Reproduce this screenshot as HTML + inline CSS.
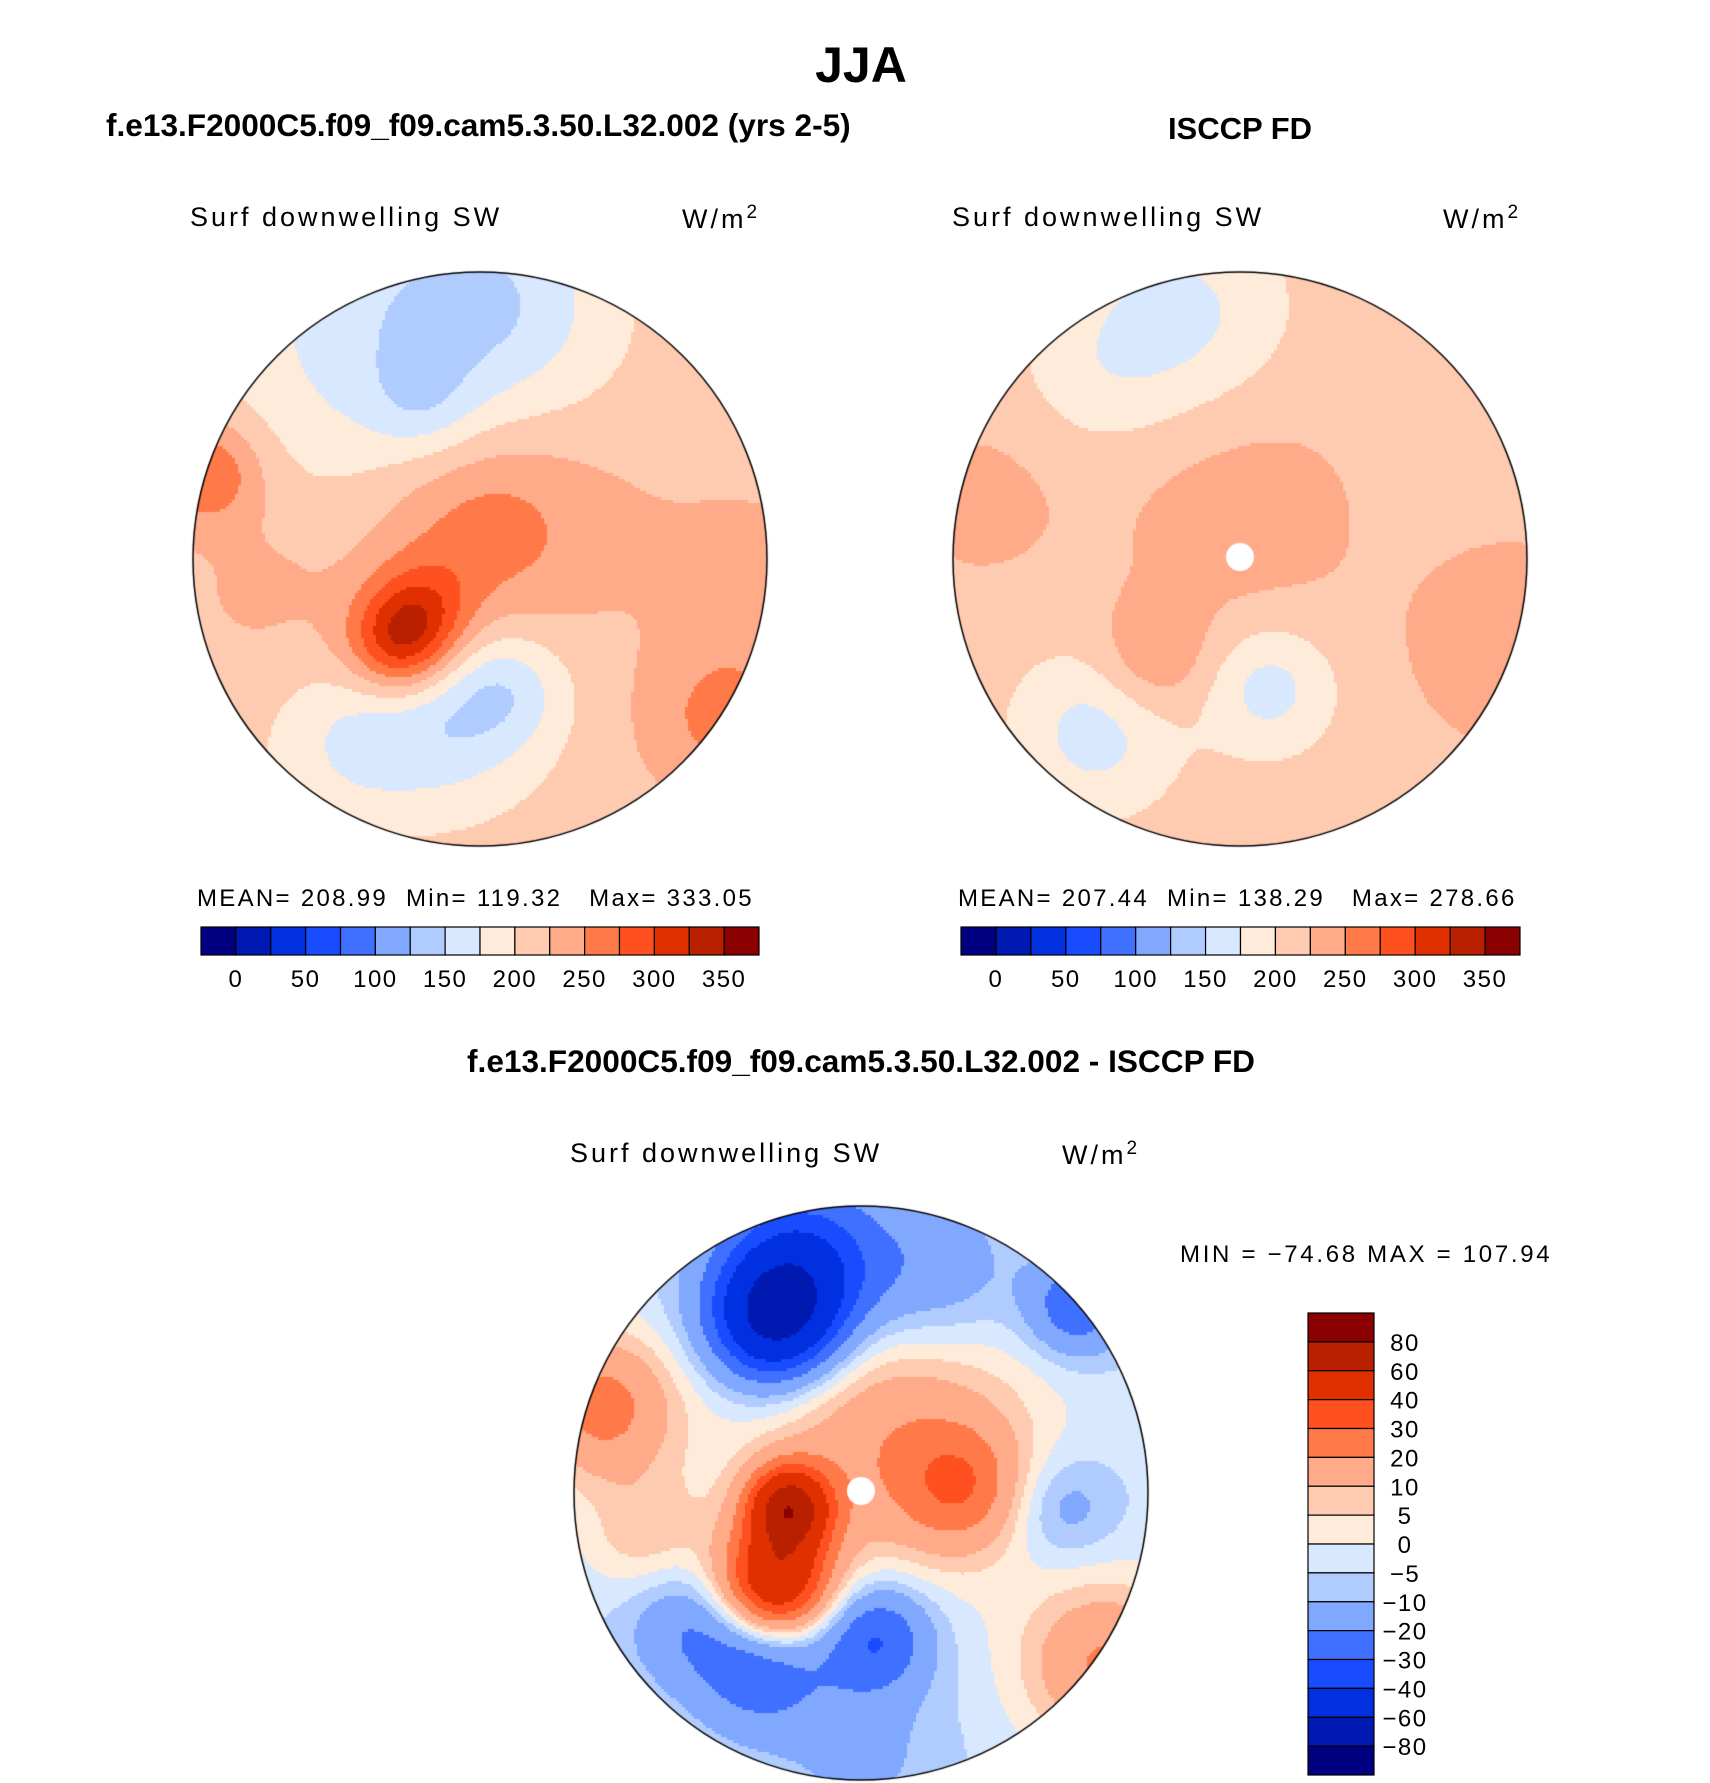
<!DOCTYPE html>
<html><head><meta charset="utf-8">
<style>
body{margin:0;background:#fff;width:1710px;height:1776px;position:relative;overflow:hidden;font-family:"Liberation Sans",sans-serif;}
.t{position:absolute;white-space:nowrap;color:#000;}
.b{font-weight:bold;}
.lab{font-size:27px;letter-spacing:3px;}
.st{font-size:24px;letter-spacing:2.3px;}
canvas{position:absolute;}
</style></head><body>
<div class="t b" style="left:0;width:1722px;text-align:center;top:36px;font-size:50px;">JJA</div>
<div class="t b" style="left:106px;top:107px;font-size:31.6px;">f.e13.F2000C5.f09_f09.cam5.3.50.L32.002 (yrs 2-5)</div>
<div class="t b" style="left:1140px;width:200px;text-align:center;top:111px;font-size:31px;">ISCCP FD</div>
<div class="t b" style="left:0;width:1722px;text-align:center;top:1043px;font-size:31.6px;">f.e13.F2000C5.f09_f09.cam5.3.50.L32.002 - ISCCP FD</div>

<div class="t lab" style="left:190px;top:202px;">Surf downwelling SW</div>
<div class="t lab" style="left:682px;top:202px;">W/m<sup style="font-size:19px">2</sup></div>
<div class="t lab" style="left:952px;top:202px;">Surf downwelling SW</div>
<div class="t lab" style="left:1443px;top:202px;">W/m<sup style="font-size:19px">2</sup></div>
<div class="t lab" style="left:570px;top:1138px;">Surf downwelling SW</div>
<div class="t lab" style="left:1062px;top:1138px;">W/m<sup style="font-size:19px">2</sup></div>

<div class="t st" style="left:197px;top:885px;">MEAN= 208.99 &nbsp;Min= 119.32 &nbsp;&nbsp;Max= 333.05</div>
<div class="t st" style="left:958px;top:885px;">MEAN= 207.44 &nbsp;Min= 138.29 &nbsp;&nbsp;Max= 278.66</div>
<div class="t st" style="left:1180px;top:1241px;letter-spacing:2.7px;">MIN = −74.68 MAX = 107.94</div>

<canvas id="m1" width="580" height="580" style="left:190px;top:269px"></canvas>
<canvas id="m2" width="580" height="580" style="left:950px;top:269px"></canvas>
<canvas id="m3" width="580" height="580" style="left:571px;top:1203px"></canvas>
<svg id="ov" width="1710" height="1776" style="position:absolute;left:0;top:0"></svg>

<script>
const absColors=["#000080","#0019b0","#0030e0","#1a4cff","#4070ff","#80a8ff","#b0ccff","#d8e8ff","#ffebd9","#ffcbb0","#ffaa88","#ff7a48","#ff5020","#e03000","#b82000","#8b0000"];
const absLevels=[0,25,50,75,100,125,150,175,200,225,250,275,300,325,350];
const absTicks=["0","50","100","150","200","250","300","350"];
const diffLevels=[-80,-60,-40,-30,-20,-10,-5,0,5,10,20,30,40,60,80];
const diffTicks=["80","60","40","30","20","10","5","0","−5","−10","−20","−30","−40","−60","−80"];
// blobs: [u, v, amplitude, sigma] in units of map radius
const modelBase=213;
const modelBlobs=[[-0.3,-0.8,-55,0.4],[0.1,-0.9,-35,0.25],[-0.2,-0.55,-30,0.13],[0,-0.12,55,0.26],[-0.28,0.3,100,0.13],[-0.2,0.18,55,0.13],[-0.1,0.55,-55,0.22],[0.1,0.45,-35,0.14],[-0.45,0.65,-35,0.2],[-0.95,-0.3,65,0.13],[-0.75,0.1,18,0.2],[0.85,0.55,45,0.2],[0.95,0.05,22,0.2],[0.5,-0.1,10,0.25]];
const obsBase=214;
const obsBlobs=[[0,-0.15,24,0.3],[-0.3,0.35,40,0.14],[-0.2,-0.85,-45,0.25],[-0.5,0.6,-50,0.2],[0.1,0.45,-50,0.16],[-0.5,-0.65,-22,0.2],[0.95,0.3,30,0.25],[-0.9,-0.2,20,0.2]];
const diffBase=-4;
const diffBlobs=[[-0.3,-0.6,-55,0.16],[-0.2,-0.8,-35,0.2],[0.25,-0.75,-15,0.2],[0.75,-0.65,-25,0.12],[0.1,-0.2,22,0.35],[-0.3,0.32,60,0.14],[-0.25,0.05,65,0.1],[0.35,-0.02,22,0.15],[-0.9,-0.3,28,0.18],[-0.35,0.6,-25,0.16],[0.05,0.5,-28,0.14],[0.7,0.05,-12,0.13],[0.85,0.6,25,0.2],[-0.75,0.15,12,0.15],[-0.6,0.45,-15,0.15],[0,0.9,-8,0.2]];

function levelIndex(v,lv){let i=0;while(i<lv.length&&v>=lv[i])i++;return i;}
function drawMap(id,base,blobs,lv,hole){
  const c=document.getElementById(id),g=c.getContext('2d'),R=287,C=290,s=3;
  for(let y=0;y<580;y+=s)for(let x=0;x<580;x+=s){
    const u=(x+1.5-C)/R,v=(y+1.5-C)/R;if(u*u+v*v>1.02)continue;
    let val=base;for(const b of blobs){const d=(u-b[0])**2+(v-b[1])**2;val+=b[2]*Math.exp(-d/(2*b[3]*b[3]));}
    g.fillStyle=absColors[levelIndex(val,lv)];g.fillRect(x,y,s,s);
  }
  g.globalCompositeOperation='destination-in';g.beginPath();g.arc(C,C,R,0,7);g.fill();
  g.globalCompositeOperation='source-over';
  if(hole){g.fillStyle='#fff';g.beginPath();g.arc(C,C-2,14,0,7);g.fill();}
  g.strokeStyle='#000';g.lineWidth=1.5;g.beginPath();g.arc(C,C,R,0,7);g.stroke();
}
drawMap('m1',modelBase,modelBlobs,absLevels,false);
drawMap('m2',obsBase,obsBlobs,absLevels,true);
drawMap('m3',diffBase,diffBlobs,diffLevels,true);

const NS='http://www.w3.org/2000/svg',ov=document.getElementById('ov');
function mk(t,a){const e=document.createElementNS(NS,t);for(const k in a)e.setAttribute(k,a[k]);ov.appendChild(e);return e;}
function hbar(x0,x1,y0,y1,pfx){
  const w=(x1-x0)/absColors.length;
  absColors.forEach((col,i)=>{const r=mk('rect',{x:x0+i*w,y:y0,width:w,height:y1-y0,fill:col,stroke:'#000','stroke-width':1.2});
    
    });
  absTicks.forEach((t,k)=>{const tx=mk('text',{x:x0+(2*k+1)*w,y:y1+32,'text-anchor':'middle','font-size':24,'letter-spacing':1.5,'font-family':'Liberation Sans, sans-serif'});tx.textContent=t;
    
    });
}
hbar(201,759,927,955,'left');
hbar(961,1520,927,955,'right');
const vx0=1308,vx1=1374,vy0=1313,vy1=1775,vh=(vy1-vy0)/absColors.length;
absColors.slice().reverse().forEach((col,i)=>{const r=mk('rect',{x:vx0,y:vy0+i*vh,width:vx1-vx0,height:vh,fill:col,stroke:'#000','stroke-width':1.2});
  
  });
diffTicks.forEach((t,k)=>{const tx=mk('text',{x:1405,y:vy0+(k+1)*vh+9,'text-anchor':'middle','font-size':24,'letter-spacing':1.5,'font-family':'Liberation Sans, sans-serif'});tx.textContent=t;
  
  });
</script>
</body></html>
